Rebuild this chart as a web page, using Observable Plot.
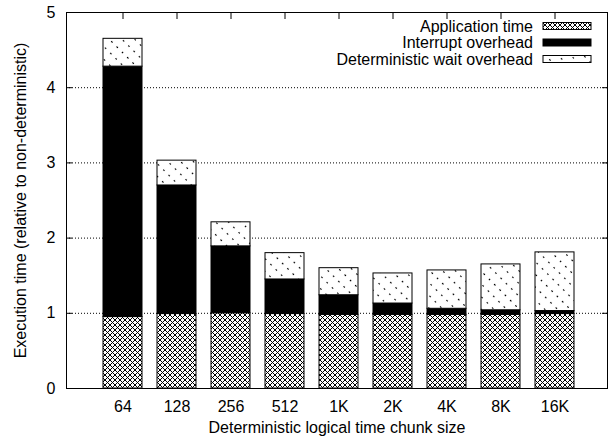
<!DOCTYPE html>
<html>
<head>
<meta charset="utf-8">
<script src="https://cdn.jsdelivr.net/npm/d3@7"></script>
<script src="https://cdn.jsdelivr.net/npm/@observablehq/plot@0.6"></script>
<style>
  html, body { margin: 0; padding: 0; background: #fff; }
  #chart svg { display: block; }
</style>
</head>
<body>
<div id="chart"></div>
<script>
// ---- data ----
const chunkSizes = ["64", "128", "256", "512", "1K", "2K", "4K", "8K", "16K"];
const seriesNames = ["Application time", "Interrupt overhead", "Deterministic wait overhead"];
const applicationTime = [0.95, 0.99, 1.00, 0.99, 0.98, 0.98, 0.98, 0.98, 0.99];
const interruptOverhead = [3.33, 1.71, 0.89, 0.46, 0.26, 0.15, 0.08, 0.06, 0.04];
const waitOverhead = [0.37, 0.33, 0.32, 0.35, 0.36, 0.40, 0.51, 0.61, 0.78];
const yTicks = [0, 1, 2, 3, 4, 5];
const gridTicks = [1, 2, 3, 4];

const seriesValues = [applicationTime, interruptOverhead, waitOverhead];
const rows = [];
chunkSizes.forEach((c, i) => {
  seriesNames.forEach((s, j) => rows.push({size: c, series: s, value: seriesValues[j][i]}));
});

const fills = ["url(#xhatch)", "black", "url(#sparse)"];
const font = "'Liberation Sans', Arial, Helvetica, sans-serif";

const plot = Plot.plot({
  width: 609,
  height: 438,
  marginLeft: 66,
  marginRight: 2,
  marginTop: 12,
  marginBottom: 50,
  style: {fontFamily: font, fontSize: "16px", color: "black", background: "white", overflow: "visible"},
  x: {domain: chunkSizes, paddingInner: 0.283, paddingOuter: 0.614, align: 0.52},
  y: {domain: [0, 5]},
  color: {domain: seriesNames, range: fills},
  marks: [
    Plot.gridY(gridTicks, {stroke: "black", strokeOpacity: 1, strokeDasharray: "1,2", strokeWidth: 1}),
    Plot.barY(rows, {x: "size", y: "value", fill: "series", stroke: "black", strokeWidth: 1, inset: 0}),
    Plot.axisY(yTicks, {anchor: "left", tickSize: -6, tickFormat: () => "", label: null}),
    Plot.axisY(yTicks, {anchor: "right", tickSize: -6, tickFormat: () => "", label: null}),
    Plot.axisX({anchor: "top", tickSize: -6, tickFormat: () => "", label: null}),
    Plot.axisY(yTicks, {anchor: "left", tickSize: 0, tickPadding: 11, fontSize: 16, tickFormat: "d",
      label: "Execution time (relative to non-deterministic)", labelAnchor: "center", labelArrow: "none", labelOffset: 52}),
    Plot.axisX({anchor: "bottom", tickSize: 0, tickPadding: 12, fontSize: 16,
      label: "Deterministic logical time chunk size", labelAnchor: "center", labelArrow: "none", labelOffset: 44}),
    Plot.frame({stroke: "black", strokeWidth: 1})
  ]
});

// patterns
const svg = d3.select(plot);
const defs = svg.insert("defs", ":first-child");
const xh = defs.append("pattern").attr("id", "xhatch").attr("patternUnits", "userSpaceOnUse")
  .attr("width", 5).attr("height", 5);
xh.append("rect").attr("width", 5).attr("height", 5).attr("fill", "white");
xh.append("path").attr("d", "M0,0L5,5M5,0L0,5M-1,1L1,-1M4,6L6,4M-1,4L1,6M4,-1L6,1")
  .attr("stroke", "black").attr("stroke-width", 1);
// sparse dashes along "\" diagonals: vertical dashes in a tile, rotated -45deg
const sp = defs.append("pattern").attr("id", "sparse").attr("patternUnits", "userSpaceOnUse")
  .attr("width", 9).attr("height", 7.5).attr("patternTransform", "rotate(-45)");
sp.append("rect").attr("width", 9).attr("height", 7.5).attr("fill", "white");
sp.append("path").attr("d", "M4.5,2.8L4.5,4.7").attr("stroke", "black").attr("stroke-width", 1.1);

// legend (inside the plot, top right)
const legend = svg.append("g").attr("font-family", font).attr("font-size", 16);
const legendRows = [26, 42.5, 59];
seriesNames.forEach((s, j) => {
  const y = legendRows[j];
  legend.append("text").attr("x", 533).attr("y", y).attr("dy", "0.35em")
    .attr("text-anchor", "end").attr("fill", "black").text(s);
  legend.append("rect").attr("x", 543).attr("y", y - 3.5).attr("width", 48).attr("height", 7)
    .attr("fill", fills[j]).attr("stroke", "black").attr("stroke-width", 1);
});

document.getElementById("chart").appendChild(plot);
</script>
</body>
</html>
